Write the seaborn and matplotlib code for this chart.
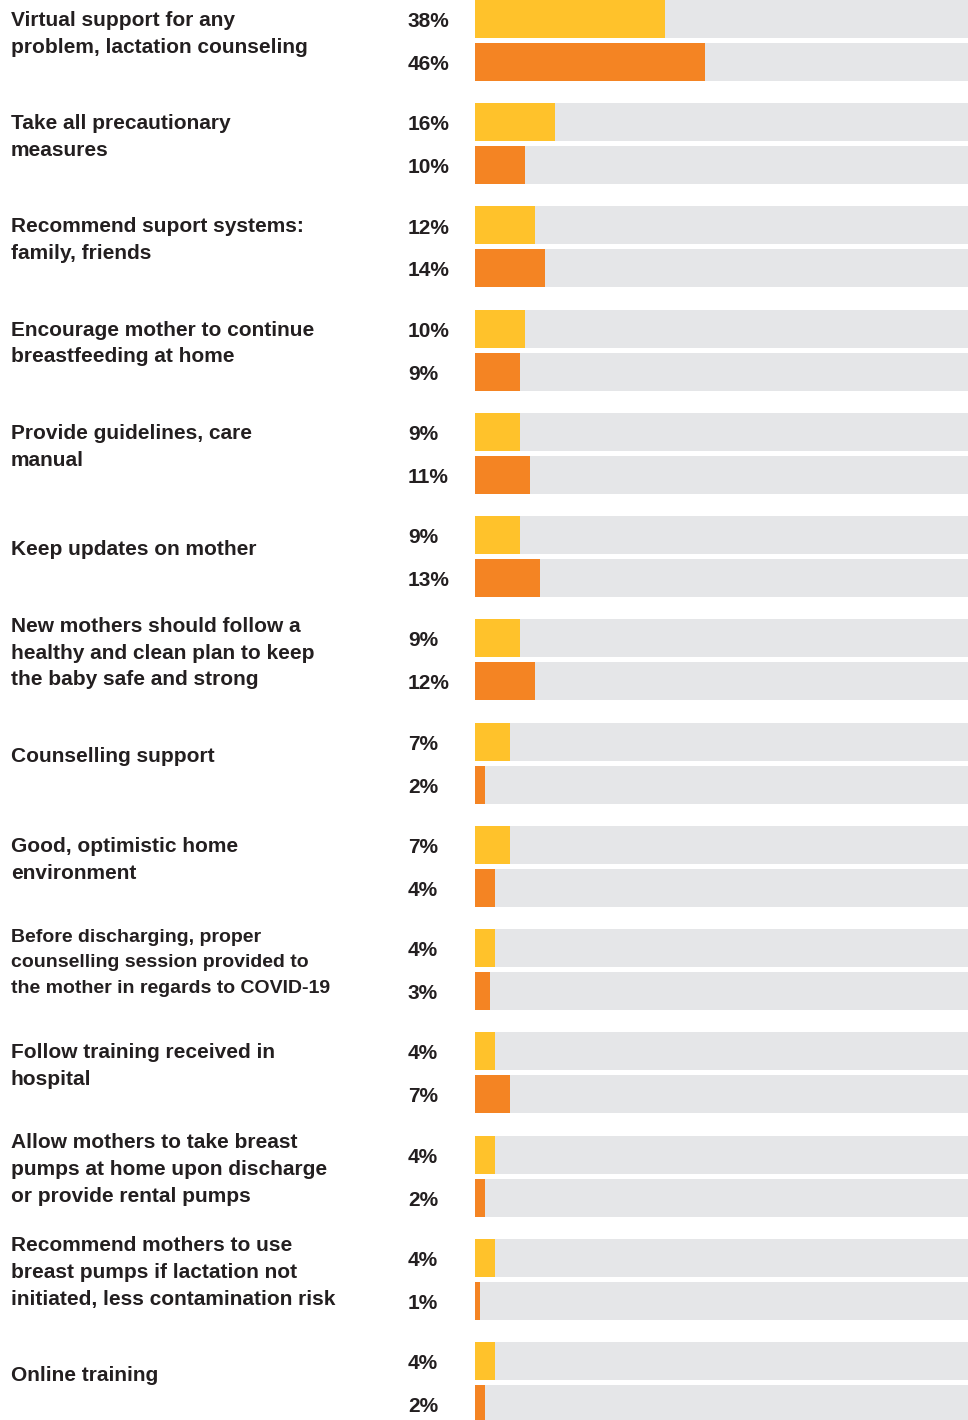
import matplotlib
matplotlib.use("Agg")
import matplotlib.pyplot as plt
import matplotlib.transforms as mtransforms
import seaborn as sns
import pandas as pd

categories = [
    "Virtual support for any\nproblem, lactation counseling",
    "Take all precautionary\nmeasures",
    "Recommend suport systems:\nfamily, friends",
    "Encourage mother to continue\nbreastfeeding at home",
    "Provide guidelines, care\nmanual",
    "Keep updates on mother",
    "New mothers should follow a\nhealthy and clean plan to keep\nthe baby safe and strong",
    "Counselling support",
    "Good, optimistic home\nenvironment",
    "Before discharging, proper\ncounselling session provided to\nthe mother in regards to COVID-19",
    "Follow training received in\nhospital",
    "Allow mothers to take breast\npumps at home upon discharge\nor provide rental pumps",
    "Recommend mothers to use\nbreast pumps if lactation not\ninitiated, less contamination risk",
    "Online training",
]
series_a = [38, 16, 12, 10, 9, 9, 9, 7, 7, 4, 4, 4, 4, 4]
series_b = [46, 10, 14, 9, 11, 13, 12, 2, 4, 3, 7, 2, 1, 2]
series_names = ["Series A", "Series B"]

YELLOW = "#FFC22B"
ORANGE = "#F48423"
GRAY = "#E5E6E8"
TEXT = "#231F20"

n = len(categories)
df = pd.DataFrame({
    "category": categories * 2,
    "series": [series_names[0]] * n + [series_names[1]] * n,
    "value": series_a + series_b,
})
df["full"] = 100

W, H = 968, 1420
fig = plt.figure(figsize=(W / 100, H / 100), dpi=100)
ax = fig.add_axes([475 / W, 0, 500 / W, 1])

common = dict(data=df, y="category", hue="series", orient="h",
              order=categories, hue_order=series_names, dodge=True,
              width=0.833, gap=0.117, legend=False, ax=ax, saturation=1)
sns.barplot(x="full", palette=[GRAY, GRAY], **common)
sns.barplot(x="value", palette=[YELLOW, ORANGE], **common)
for p in ax.patches:
    p.set_linewidth(0)

ax.set_xlim(0, 100)
ax.set_ylim(13.363, -0.392)
ax.axis("off")

plt.rcParams["font.family"] = ["Liberation Sans", "DejaVu Sans"]
trans = mtransforms.blended_transform_factory(fig.transFigure, ax.transData)
fs = 15
for i, cat in enumerate(categories):
    size = 14 if "COVID" in cat else fs
    ax.text(11 / W, i - 0.065, cat, transform=trans, ha="left", va="center",
            fontsize=size, fontweight="bold", color=TEXT,
            linespacing=1.52 * fs / size, family="Liberation Sans")
    for j, vals in enumerate([series_a, series_b]):
        yc = i + (-0.208 if j == 0 else 0.208) + 0.025
        ax.text(408 / W, yc, f"{vals[i]}%", transform=trans, ha="left",
                va="center", fontsize=fs, fontweight="bold", color=TEXT,
                family="Liberation Sans")

fig.savefig("out.png", dpi=100)
